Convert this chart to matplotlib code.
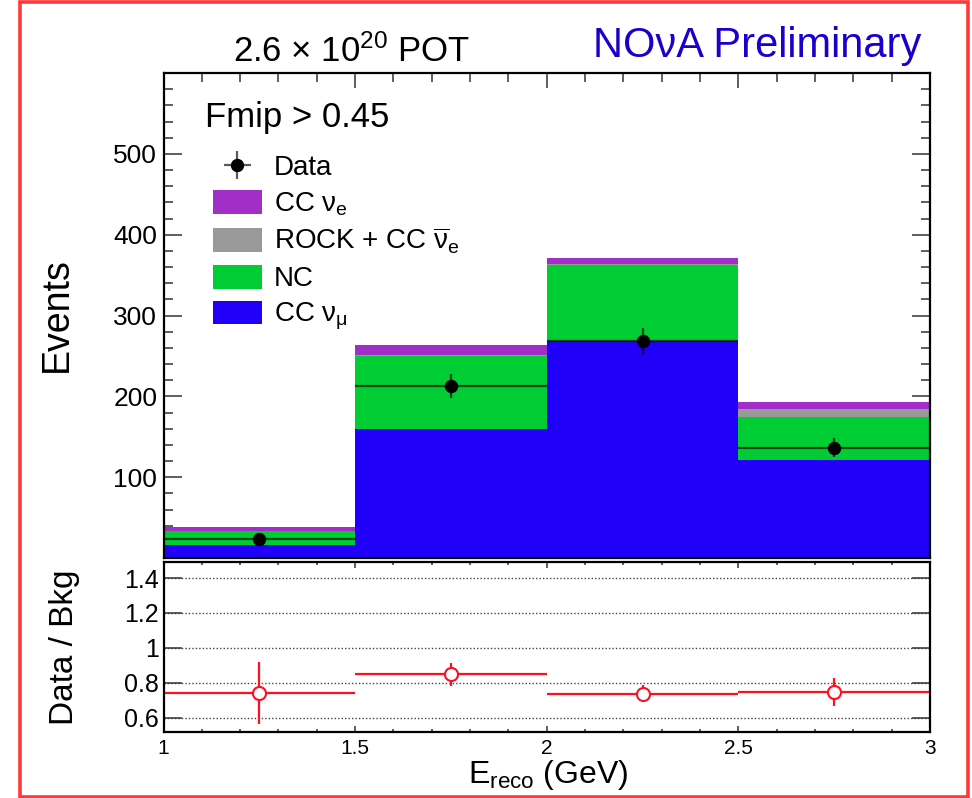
import matplotlib
matplotlib.use("Agg")
import matplotlib.pyplot as plt
from matplotlib.patches import Rectangle, Patch
from matplotlib.ticker import MultipleLocator, FixedLocator, FormatStrFormatter

plt.rcParams['font.family'] = ['Liberation Sans', 'DejaVu Sans']
plt.rcParams['mathtext.fontset'] = 'custom'
plt.rcParams['mathtext.rm'] = 'Liberation Sans'
plt.rcParams['mathtext.it'] = 'Liberation Sans:italic'
plt.rcParams['mathtext.bf'] = 'Liberation Sans:bold'

# ---- data -------------------------------------------------------------
bin_edges = [1.0, 1.5, 2.0, 2.5, 3.0]
bin_centers = [1.25, 1.75, 2.25, 2.75]

cc_numu = [16.0, 159.0, 268.0, 121.0]
nc = [17.5, 91.5, 95.0, 53.0]
rock_ccnuebar = [0.3, 0.5, 0.6, 10.5]
cc_nue = [4.2, 13.0, 8.0, 8.2]

data = [23.5, 213.0, 268.0, 136.5]
data_err = [4.8, 14.6, 16.4, 11.7]

ratio = [0.743, 0.848, 0.737, 0.746]
ratio_err = [0.177, 0.067, 0.048, 0.080]

ratio_ticks = [0.6, 0.8, 1.0, 1.2, 1.4]
event_ticks = [100, 200, 300, 400, 500]

# ---- style ------------------------------------------------------------
W, H = 972, 798
C_NUMU = '#2000f8'
C_NC = '#00cc33'
C_ROCK = '#999999'
C_NUE = '#a22ec8'
C_RATIO = '#ff1020'
C_TAG = '#1a00cc'


def fx(x):
    return x / W


def fy(y):
    return 1 - y / H


fig = plt.figure(figsize=(W / 100, H / 100), dpi=100)

left, right = 163.5, 930.0
ax = fig.add_axes([fx(left), fy(558.0), fx(right - left), (558.0 - 73.0) / H])
rax = fig.add_axes([fx(left), fy(732.3), fx(right - left), (732.3 - 561.7) / H])

# ---- stacked prediction ------------------------------------------------
width = [bin_edges[i + 1] - bin_edges[i] for i in range(len(bin_centers))]
bottom = [0.0] * len(bin_centers)
for vals, col in [(cc_numu, C_NUMU), (nc, C_NC),
                  (rock_ccnuebar, C_ROCK), (cc_nue, C_NUE)]:
    ax.bar(bin_centers, vals, width=width, bottom=bottom,
           color=col, edgecolor='none', linewidth=0, zorder=2)
    bottom = [b + v for b, v in zip(bottom, vals)]

# ---- data points ------------------------------------------------------
half = [w / 2 for w in width]
data_h = ax.errorbar(bin_centers, data, xerr=half, yerr=data_err, fmt='o',
                     color='black', markersize=8.6, elinewidth=1.6,
                     capsize=0, zorder=4)
for coll in data_h[2]:
    coll.set_alpha(0.65)

ax.set_xlim(1, 3)
ax.set_ylim(0, 600)
ax.set_axisbelow(True)
ax.xaxis.set_major_locator(MultipleLocator(0.5))
ax.xaxis.set_minor_locator(MultipleLocator(0.1))
ax.yaxis.set_major_locator(FixedLocator(event_ticks))
ax.yaxis.set_minor_locator(MultipleLocator(20))
ax.tick_params(which='both', direction='in', top=True, right=True,
               labelbottom=False, color='#333333', width=1.1)
ax.tick_params(axis='y', which='major', length=13, labelsize=19, pad=4.5)
ax.tick_params(axis='y', which='minor', length=6.5)
ax.tick_params(axis='x', which='major', length=11)
ax.tick_params(axis='x', which='minor', length=6.5)
for s in ax.spines.values():
    s.set_linewidth(1.6)
    s.set_zorder(5)

# ---- legend -----------------------------------------------------------
leg_handles = [data_h,
               Patch(facecolor=C_NUE, edgecolor='none'),
               Patch(facecolor=C_ROCK, edgecolor='none'),
               Patch(facecolor=C_NC, edgecolor='none'),
               Patch(facecolor=C_NUMU, edgecolor='none')]
leg_labels = ['Data',
              r'CC ν$_{\mathrm{e}}$',
              r'ROCK + CC $\overline{\mathrm{\nu}}_{\mathrm{e}}$',
              'NC',
              r'CC ν$_{\mathrm{\mu}}$']
ax.legend(leg_handles, leg_labels, loc='upper left',
          bbox_to_anchor=(fx(213), fy(154)), bbox_transform=fig.transFigure,
          frameon=False, fontsize=20, borderpad=0, borderaxespad=0,
          handlelength=1.76, handleheight=0.94, handletextpad=0.43,
          labelspacing=0.3)

# ---- ratio panel ------------------------------------------------------
rax.errorbar(bin_centers, ratio, xerr=half, yerr=ratio_err, fmt='o',
             color=C_RATIO, markerfacecolor='white', markeredgecolor=C_RATIO,
             markeredgewidth=1.5, markersize=9.4, elinewidth=1.6, capsize=0,
             zorder=4)
rax.set_xlim(1, 3)
rax.set_ylim(0.516, 1.494)
rax.yaxis.set_major_locator(FixedLocator(ratio_ticks))
rax.yaxis.set_major_formatter(FormatStrFormatter('%g'))
rax.xaxis.set_major_locator(MultipleLocator(0.5))
rax.xaxis.set_minor_locator(MultipleLocator(0.1))
rax.xaxis.set_major_formatter(FormatStrFormatter('%g'))
rax.grid(axis='y', linestyle=(0, (1, 1.5)), color='#444444', linewidth=1.0)
rax.set_axisbelow(True)
rax.tick_params(which='both', direction='in', top=True, right=True,
                color='#333333', width=1.1)
rax.tick_params(axis='y', which='major', length=13, labelsize=18, pad=3.5)
rax.tick_params(axis='x', which='major', length=4.5, labelsize=15, pad=5)
rax.tick_params(axis='x', which='minor', length=2.5)
for s in rax.spines.values():
    s.set_linewidth(1.6)
    s.set_zorder(5)

# ---- labels -----------------------------------------------------------
fig.text(fx(57), fy(315), 'Events', rotation=90, ha='center', va='center',
         fontsize=27)
fig.text(fx(64), fy(647), 'Data / Bkg', rotation=90, ha='center',
         va='center', fontsize=24)
fig.text(fx(548), fy(783), r'E$_{\mathrm{reco}}$ (GeV)', ha='center',
         va='baseline', fontsize=23)
fig.text(fx(352), fy(61.7), r'2.6 × 10$^{20}$ POT', ha='center',
         va='baseline', fontsize=25)
fig.text(fx(921), fy(56.7), 'NOνA Preliminary', ha='right', va='baseline',
         fontsize=30, color=C_TAG)
fig.text(fx(205), fy(126.7), 'Fmip > 0.45', ha='left', va='baseline',
         fontsize=25)

# ---- outer frame ------------------------------------------------------
fig.add_artist(Rectangle((fx(19.8), fy(796.5)), fx(967.5 - 19.8),
                         (796.5 - 1.5) / H, transform=fig.transFigure,
                         fill=False, edgecolor='#ff3838', linewidth=2.6))

fig.savefig('out.png', dpi=100)
